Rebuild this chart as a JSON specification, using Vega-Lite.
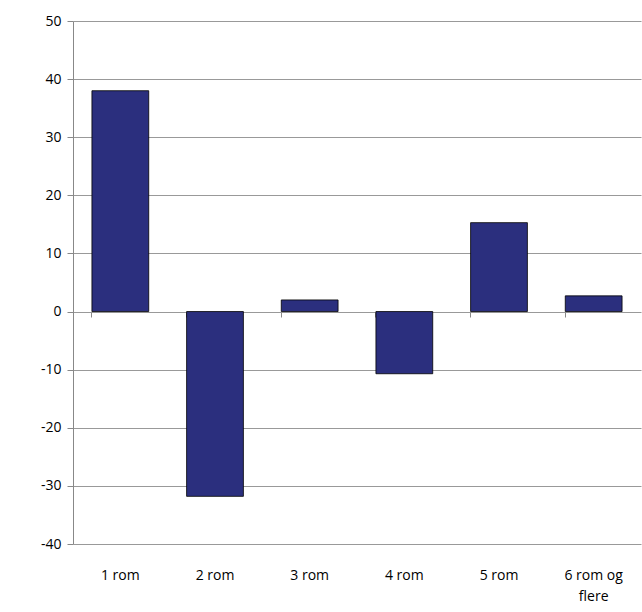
{
  "$schema": "https://vega.github.io/schema/vega-lite/v6.json",
  "autosize": "none",
  "padding": {"left": 73, "top": 21, "right": 1, "bottom": 68},
  "width": 568,
  "height": 523,
  "data": {
    "values": [
      {"rom": "1 rom", "verdi": 38.0},
      {"rom": "2 rom", "verdi": -31.8},
      {"rom": "3 rom", "verdi": 2.0},
      {"rom": "4 rom", "verdi": -10.7},
      {"rom": "5 rom", "verdi": 15.3},
      {"rom": "6 rom og flere", "verdi": 2.7}
    ]
  },
  "config": {
    "font": "Open Sans",
    "view": {"stroke": null},
    "axis": {"labelFontSize": 14, "labelColor": "#000", "domainColor": "#888", "tickColor": "#888", "gridColor": "#999"}
  },
  "resolve": {"axis": {"x": "independent"}},
  "layer": [
    {
      "mark": {"type": "bar", "color": "#2b2f7e", "stroke": "#000", "strokeWidth": 0.8},
      "encoding": {
        "x": {"field": "rom", "type": "nominal", "sort": null, "title": null,
          "scale": {"paddingInner": 0.4, "paddingOuter": 0.2},
          "axis": {"labelAngle": 0, "domain": false, "ticks": false, "labelPadding": 24, "labelLineHeight": 21, "labelOverlap": false,
            "labelExpr": "datum.value == '6 rom og flere' ? ['6 rom og', 'flere'] : datum.value"}},
        "y": {"field": "verdi", "type": "quantitative", "title": null,
          "scale": {"domain": [-40, 50], "nice": false},
          "axis": {"values": [-40, -30, -20, -10, 0, 10, 20, 30, 40, 50], "labelOverlap": false, "tickSize": 6, "labelPadding": 6,
            "labelExpr": "replace(datum.label, '−', '-')"}}
      }
    },
    {
      "mark": {"type": "rule", "color": "#888"},
      "encoding": {
        "y": {"datum": 0},
        "x": {"field": "rom", "type": "nominal", "sort": null,
          "scale": {"paddingInner": 0.4, "paddingOuter": 0.2},
          "axis": {"labels": false, "title": null, "domain": false, "offset": -232, "bandPosition": 0, "tickColor": "#888", "tickSize": 5, "orient": "bottom"}}
      }
    }
  ]
}
